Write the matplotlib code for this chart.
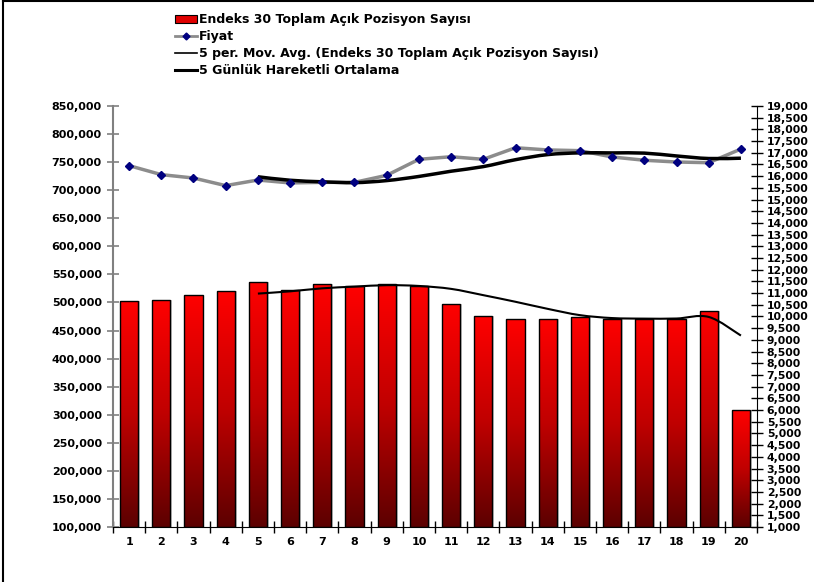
import matplotlib
matplotlib.use("Agg")
import matplotlib.pyplot as plt
import numpy as np
import pandas as pd
from matplotlib.path import Path
from matplotlib.patches import PathPatch, Patch
from matplotlib.lines import Line2D
from matplotlib.colors import LinearSegmentedColormap
from matplotlib.ticker import FuncFormatter, MultipleLocator

# data
days = list(range(1, 21))
open_positions = [503000, 505000, 514000, 520000, 537000, 523000, 532000, 529000, 533000, 530000,
                  497000, 476000, 470000, 470000, 474000, 471000, 471000, 471000, 484000, 308000]
price = [16450, 16065, 15920, 15595, 15835, 15710, 15735, 15735, 16035, 16720,
         16830, 16720, 17215, 17120, 17090, 16820, 16680, 16605, 16575, 17160]

label_bars = "Endeks 30 Toplam Açık Pozisyon Sayısı"
label_price = "Fiyat"
label_ma_bars = "5 per. Mov. Avg. (Endeks 30 Toplam Açık Pozisyon Sayısı)"
label_ma_price = "5 Günlük Hareketli Ortalama"

# 5 period moving averages (trendlines of the two series)
ma_bars = pd.Series(open_positions).rolling(5).mean().to_numpy()
ma_price = pd.Series(price).rolling(5).mean().to_numpy()

plt.rcParams['font.family'] = ['DejaVu Sans']
plt.rcParams['font.weight'] = 'bold'


def smooth_path(xs, ys):
    # excel style smoothed line: catmull-rom segments as cubic beziers
    pts = np.column_stack([xs, ys])
    verts = [pts[0]]
    codes = [Path.MOVETO]
    n = len(pts)
    for i in range(n - 1):
        p0 = pts[max(i - 1, 0)]
        p1 = pts[i]
        p2 = pts[i + 1]
        p3 = pts[min(i + 2, n - 1)]
        c1 = p1 + (p2 - p0) / 6.0
        c2 = p2 - (p3 - p1) / 6.0
        verts += [c1, c2, p2]
        codes += [Path.CURVE4] * 3
    return Path(verts, codes)


fig = plt.figure(figsize=(8.14, 5.82), dpi=100)
ax1 = fig.add_axes([0.1388, 0.0945, 0.7912, 0.7234])
ax2 = ax1.twinx()

x = np.array(days, dtype=float)
width = 0.56
ax1.set_xlim(0.5, 20.5)
ax1.set_ylim(100000, 850000)
ax2.set_ylim(1000, 19000)

# bars with vertical red gradient
cmap = LinearSegmentedColormap.from_list("redgrad", ["#5c0000", "#c00000", "#ff0000"])
grad = np.linspace(0, 1, 256).reshape(-1, 1)
for xi, h in zip(x, open_positions):
    ax1.bar(xi + 0.06, h - 100000, width, bottom=100000, color="#c8c8c8", zorder=1)
    im = ax1.imshow(grad, cmap=cmap, origin="lower", aspect="auto",
                    extent=(xi - width / 2, xi + width / 2, 100000, h), zorder=2)
    b = ax1.bar(xi, h - 100000, width, bottom=100000, facecolor="none",
                edgecolor="black", linewidth=1.0, zorder=3)
    im.set_clip_path(b.patches[0])
ax1.set_xlim(0.5, 20.5)
ax1.set_ylim(100000, 850000)

ok = ~np.isnan(ma_bars)
ax1.add_patch(PathPatch(smooth_path(x[ok], ma_bars[ok]), facecolor="none",
                        edgecolor="black", linewidth=1.5, zorder=4))

ax2.plot(x, price, color="#8c8c8c", linewidth=2.5, zorder=3)
ax2.plot(x, price, linestyle="none", marker="D", markersize=4.5, color="#000080", zorder=5)
ok = ~np.isnan(ma_price)
ax2.add_patch(PathPatch(smooth_path(x[ok], ma_price[ok]), facecolor="none",
                        edgecolor="black", linewidth=2.5, zorder=4))

# axes styling
for sp in ["top"]:
    ax1.spines[sp].set_visible(False)
    ax2.spines[sp].set_visible(False)
ax1.spines["right"].set_visible(False)
ax2.spines["left"].set_visible(False)
ax2.spines["bottom"].set_visible(False)
ax1.spines["left"].set_color("#808080")
ax1.spines["left"].set_linewidth(1.5)
ax1.spines["bottom"].set_color("black")
ax2.spines["right"].set_color("black")

ax1.yaxis.set_major_locator(MultipleLocator(50000))
ax1.yaxis.set_major_formatter(FuncFormatter(lambda v, p: f"{int(v):,}"))
ax1.tick_params(axis="y", direction="inout", length=8, width=1.2, color="#808080",
                labelsize=8, pad=4)

ax2.yaxis.set_major_locator(MultipleLocator(500))
ax2.yaxis.set_major_formatter(FuncFormatter(lambda v, p: f"{int(v):,}"))
ax2.tick_params(axis="y", direction="inout", length=8, width=1.0, color="black",
                labelsize=7.8, pad=3)

ax1.set_xticks(days)
ax1.set_xticks(np.arange(0.5, 21, 1.0), minor=True)
ax1.tick_params(axis="x", which="major", length=0, labelsize=8, pad=7)
ax1.tick_params(axis="x", which="minor", direction="inout", length=8, width=1.0)
for lab in ax1.get_xticklabels() + ax1.get_yticklabels() + ax2.get_yticklabels():
    lab.set_fontweight("bold")

# legend
handles = [
    Patch(facecolor="#e00000", edgecolor="black", linewidth=0.8),
    Line2D([], [], color="#8c8c8c", linewidth=2, marker="D", markersize=3.5,
           markerfacecolor="#000080", markeredgecolor="#000080"),
    Line2D([], [], color="black", linewidth=1.2),
    Line2D([], [], color="black", linewidth=2.2),
]
fig.legend(handles, [label_bars, label_price, label_ma_bars, label_ma_price],
           loc="upper left", bbox_to_anchor=(0.204, 0.992), frameon=False,
           prop={"weight": "bold", "size": 9.0}, handlelength=1.8, handleheight=0.7,
           handletextpad=0.15, labelspacing=0.32, borderpad=0.2)

# chart border (top and left edges visible)
fig.add_artist(Line2D([0.004, 1.0], [0.998, 0.998], transform=fig.transFigure,
                      color="black", linewidth=1.5))
fig.add_artist(Line2D([0.004, 0.004], [0.0, 0.998], transform=fig.transFigure,
                      color="black", linewidth=1.5))

fig.savefig("out.png", dpi=100)
